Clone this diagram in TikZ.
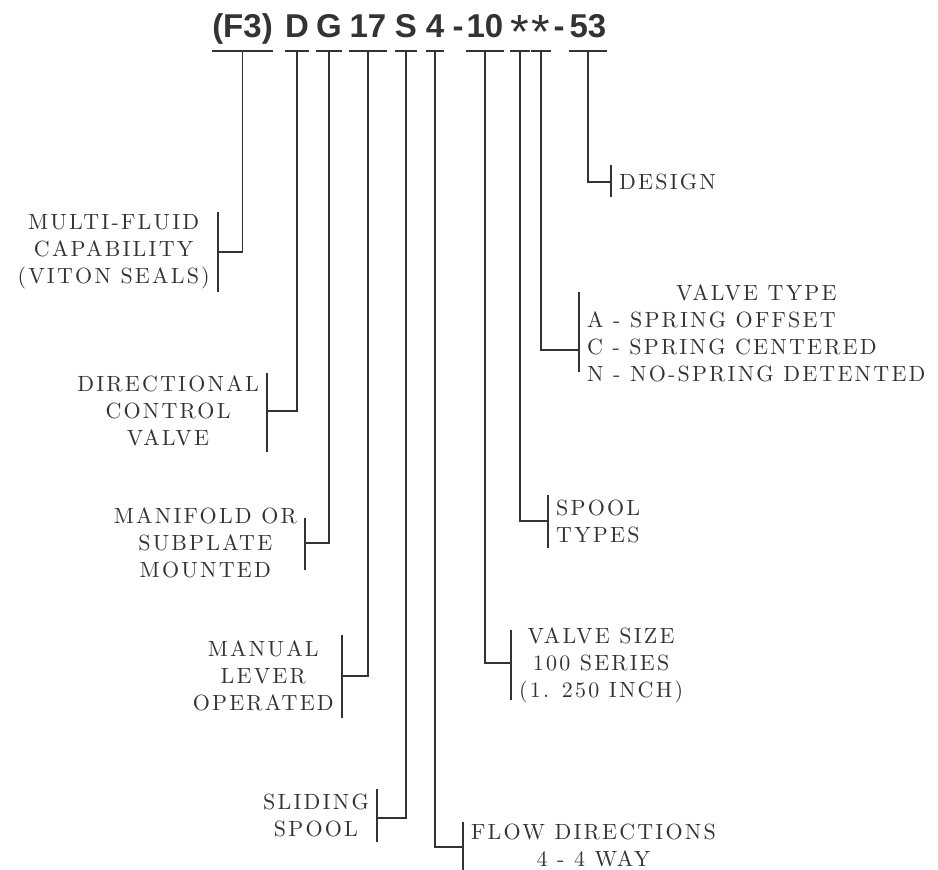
\documentclass[tikz,border=0pt]{standalone}
\usepackage{fontspec}
\newfontfamily\titlefont{Liberation Sans}
\newfontfamily\lblfont{lmroman10-regular}[Extension=.otf, LetterSpace=10]

\begin{document}
\begin{tikzpicture}[x=1pt, y=-1pt,
    every node/.style={text=black!80},
    code/.style={font=\titlefont\bfseries\fontsize{33}{33}\selectfont, inner sep=0pt, anchor=base},
    lbl/.style={font=\lblfont\fontsize{22}{27}\selectfont, align=center, inner xsep=8pt, inner ysep=0pt},
    wire/.style={black!80, line width=1.3pt}
]
\useasboundingbox (0,0) rectangle (938,870);

% ============ MODEL CODE ============
\node[code] (f3) at (242.5,37) {(F3)};
\node[code] (d) at (297,37) {D};
\node[code] (g) at (329,37) {G};
\node[code] (n17) at (368,37) {17};
\node[code] (s) at (406,37) {S};
\node[code] (n4) at (435,37) {4};
\node[code] (hy1) at (458,37) {-};
\node[code] (n10) at (485,37) {10};
\node[code] (st1) at (520,37) {\raisebox{-12pt}{\fontsize{48}{48}\selectfont\mdseries *}};
\node[code] (st2) at (541,37) {\raisebox{-12pt}{\fontsize{48}{48}\selectfont\mdseries *}};
\node[code] (hy2) at (559,37) {-};
\node[code] (n53) at (588,37) {53};

% ============ LEFT LABELS ============
\node[lbl, anchor=east] (f3lbl) at (218,252) {MULTI-FLUID\\CAPABILITY\\(VITON SEALS)};
\node[lbl, anchor=east] (dlbl) at (267,411) {DIRECTIONAL\\CONTROL\\VALVE};
\node[lbl, anchor=east] (glbl) at (305,543) {MANIFOLD OR\\SUBPLATE\\MOUNTED};
\node[lbl, anchor=east] (n17lbl) at (342,676) {MANUAL\\LEVER\\OPERATED};
\node[lbl, anchor=east] (slbl) at (377,815) {SLIDING\\SPOOL};

% ============ RIGHT LABELS ============
\node[lbl, anchor=west] (n4lbl) at (463,845) {FLOW DIRECTIONS\\4 - 4 WAY};
\node[lbl, anchor=west] (n10lbl) at (511,665) {VALVE SIZE\\100 SERIES\\(1. 250 INCH)};
\node[lbl, anchor=west, align=left] (spoollbl) at (548,521) {SPOOL\\TYPES};
\node[lbl, anchor=west] (vtypelbl) at (579,336) {\begin{tabular}{@{}l@{}}
    \multicolumn{1}{@{}c@{}}{VALVE TYPE}\\
    A - SPRING OFFSET\\
    C - SPRING CENTERED\\
    N - NO-SPRING DETENTED
  \end{tabular}};
\node[lbl, anchor=west] (designlbl) at (611,182) {DESIGN};

% ============ BRACKETS ============
\draw[wire] ([yshift=40]f3lbl.east) -- ([yshift=-40]f3lbl.east);
\draw[wire] ([yshift=38]dlbl.east) -- ([yshift=-41]dlbl.east);
\draw[wire] ([yshift=25]glbl.east) -- ([yshift=-27]glbl.east);
\draw[wire] ([yshift=41]n17lbl.east) -- ([yshift=-42]n17lbl.east);
\draw[wire] ([yshift=26]slbl.east) -- ([yshift=-27]slbl.east);
\draw[wire] ([yshift=23]n4lbl.west) -- ([yshift=-25]n4lbl.west);
\draw[wire] ([yshift=35]n10lbl.west) -- ([yshift=-35]n10lbl.west);
\draw[wire] ([yshift=26]spoollbl.west) -- ([yshift=-27]spoollbl.west);
\draw[wire] ([yshift=44]vtypelbl.west) -- ([yshift=-36]vtypelbl.west);
\draw[wire] ([yshift=17]designlbl.west) -- ([yshift=-15]designlbl.west);

% ============ CONNECTORS ============
\draw[wire] ([yshift=-14]f3.base west) -- ([yshift=-14]f3.base east)
            ([yshift=-14]f3.base) |- (f3lbl.east);
\draw[wire] ([yshift=-14]d.base west) -- ([yshift=-14]d.base east)
            ([yshift=-14]d.base) |- (dlbl.east);
\draw[wire] ([yshift=-14]g.base west) -- ([yshift=-14]g.base east)
            ([yshift=-14]g.base) |- (glbl.east);
\draw[wire] ([yshift=-14]n17.base west) -- ([yshift=-14]n17.base east)
            ([yshift=-14]n17.base) |- (n17lbl.east);
\draw[wire] ([yshift=-14]s.base west) -- ([yshift=-14]s.base east)
            ([yshift=-14]s.base) |- ([yshift=-3]slbl.east);
\draw[wire] ([yshift=-14]n4.base west) -- ([yshift=-14]n4.base east)
            ([yshift=-14]n4.base) |- ([yshift=-2]n4lbl.west);
\draw[wire] ([yshift=-14]n10.base west) -- ([yshift=-14]n10.base east)
            ([yshift=-14]n10.base) |- ([yshift=2]n10lbl.west);
\draw[wire] ([yshift=-14]st1.base west) -- ([yshift=-14]st1.base east)
            ([yshift=-14]st1.base) |- (spoollbl.west);
\draw[wire] ([yshift=-14]st2.base west) -- ([yshift=-14]st2.base east)
            ([yshift=-14]st2.base) |- ([yshift=-14]vtypelbl.west);
\draw[wire] ([yshift=-14]n53.base west) -- ([yshift=-14]n53.base east)
            ([yshift=-14]n53.base) |- (designlbl.west);

\end{tikzpicture}
\end{document}
